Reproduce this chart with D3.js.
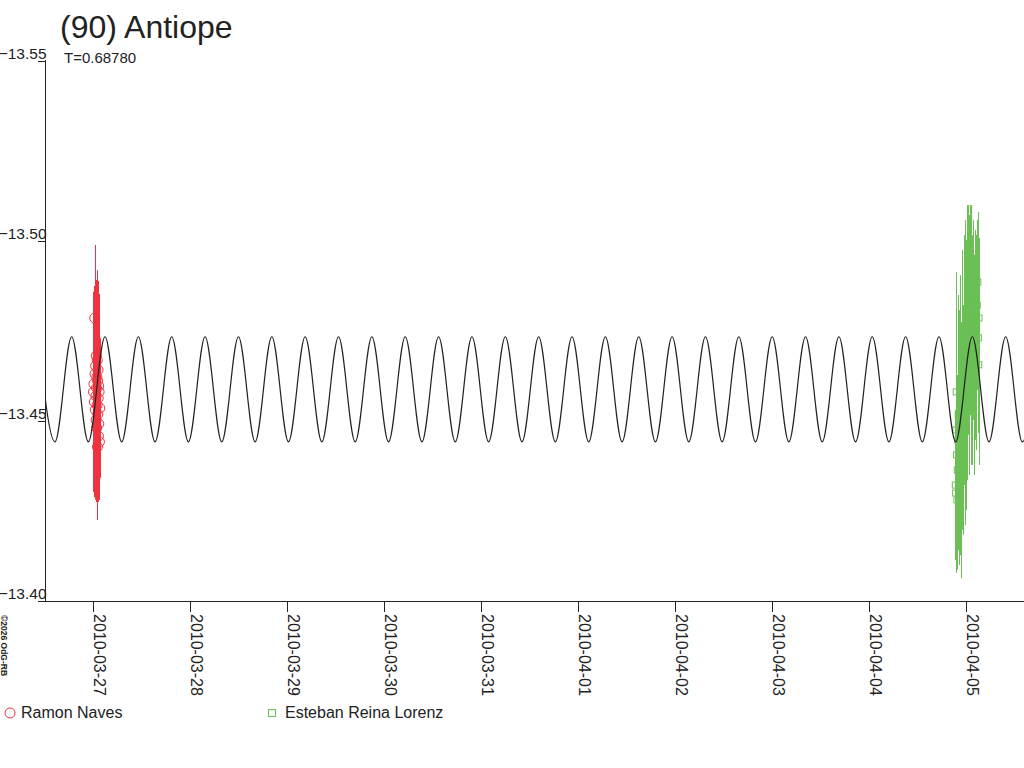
<!DOCTYPE html>
<html>
<head>
<meta charset="utf-8">
<script src="https://cdn.jsdelivr.net/npm/d3@7"></script>
<style>
body { margin: 0; background: #fff; }
svg { display: block; font-family: "Liberation Sans", Arial, sans-serif; }
</style>
</head>
<body>
<svg id="chart" width="1024" height="768"></svg>
<script>
// all times are days since 2010-03-27 00:00 UT
var epoch = Date.UTC( 2010, 2, 27 );

var title = '(90) Antiope';
var subtitle = 'T=0.68780';
var credit = '\u00a92026 OdG-RB';

var domainDays = [ -0.4948, 9.598 ];
var magDomain = [ -13.55, -13.40 ];
var magTicks = [ -13.55, -13.50, -13.45, -13.40 ];

var curveMaxMag = -13.4734;
var curveMinMag = -13.4442;
var curveMaxDays = [ -0.5640, -0.2200, 0.1238, 0.4678, 0.8117, 1.1556, 1.4995, 1.8434, 2.1873, 2.5312,
	2.8751, 3.2190, 3.5629, 3.9068, 4.2507, 4.5946, 4.9385, 5.2824, 5.6263, 5.9702,
	6.3141, 6.6580, 7.0019, 7.3458, 7.6897, 8.0336, 8.3775, 8.7214, 9.0653, 9.4092, 9.7531 ];
var curveMinDays = [ -0.3920, -0.0481, 0.2958, 0.6397, 0.9836, 1.3275, 1.6714, 2.0153, 2.3592, 2.7031,
	3.0470, 3.3909, 3.7348, 4.0787, 4.4226, 4.7665, 5.1104, 5.4543, 5.7982, 6.1421,
	6.4860, 6.8299, 7.1738, 7.5177, 7.8616, 8.2055, 8.5494, 8.8933, 9.2372, 9.5811 ];

// Ramon Naves
var redDays = [ 0.005, 0.010, 0.014, 0.018, 0.021, 0.024, 0.027, 0.030, 0.032, 0.034, 0.036, 0.038, 0.040,
	0.042, 0.044, 0.046, 0.048, 0.050, 0.052, 0.054, 0.056, 0.058, 0.060, 0.063, 0.066, 0.070 ];
var redMags = [ -13.4581, -13.4603, -13.4553, -13.4786, -13.4631, -13.4531, -13.4653, -13.4569, -13.4503,
	-13.4681, -13.4592, -13.4481, -13.4622, -13.4544, -13.4669, -13.4428, -13.4611, -13.4519, -13.4642,
	-13.4564, -13.4458, -13.4597, -13.4492, -13.4581, -13.4442, -13.4536 ];
var redErrs = [ 0.0278, 0.0272, 0.0264, 0.0203, 0.0250, 0.0250, 0.0236, 0.0292, 0.0228, 0.0208, 0.0300,
	0.0194, 0.0264, 0.0278, 0.0250, 0.0203, 0.0278, 0.0244, 0.0244, 0.0289, 0.0172, 0.0256, 0.0211,
	0.0236, 0.0139, 0.0194 ];

// Esteban Reina Lorenz
var greenDays = [ 8.890, 8.893, 8.896, 8.899, 8.902, 8.906, 8.910, 8.915, 8.920, 8.925, 8.930, 8.935, 8.940,
	8.948, 8.955, 8.962, 8.970, 8.978, 8.985, 8.992, 9.000, 9.008, 9.015, 9.022, 9.030, 9.040, 9.048,
	9.056, 9.064, 9.072, 9.080, 9.090, 9.100, 9.108, 9.116, 9.122, 9.128, 9.132, 9.134 ];
var greenMags = [ -13.4322, -13.4300, -13.4475, -13.4581, -13.4406, -13.4281, -13.4364, -13.4447, -13.4517,
	-13.4392, -13.4489, -13.4558, -13.4433, -13.4419, -13.4531, -13.4614, -13.4503, -13.4669, -13.4572,
	-13.4725, -13.4628, -13.4753, -13.4669, -13.4781, -13.4711, -13.4808, -13.4739, -13.4836, -13.4697,
	-13.4781, -13.4656, -13.4739, -13.4697, -13.4767, -13.4822, -13.4886, -13.4731, -13.4656, -13.4786 ];
var greenErrs = [ 0.0208, 0.0222, 0.0306, 0.0333, 0.0278, 0.0194, 0.0264, 0.0306, 0.0333, 0.0292, 0.0319,
	0.0347, 0.0306, 0.0356, 0.0333, 0.0361, 0.0319, 0.0347, 0.0361, 0.0333, 0.0375, 0.0347, 0.0333,
	0.0319, 0.0361, 0.0292, 0.0361, 0.0264, 0.0319, 0.0278, 0.0306, 0.0292, 0.0278, 0.0250, 0.0236,
	0.0194, 0.0264, 0.0278, 0.0222 ];

var series = [
	{ name: 'Esteban Reina Lorenz', color: '#6abf55', symbol: 'square', days: greenDays, mags: greenMags, errs: greenErrs, legendX: 272 },
	{ name: 'Ramon Naves', color: '#ee3340', symbol: 'circle', days: redDays, mags: redMags, errs: redErrs, legendX: 10 }
];

var toDate = function ( d ) { return new Date( epoch + d * 864e5 ); };
var ink = '#222';

var svg = d3.select( '#chart' );

var x = d3.scaleUtc()
	.domain( domainDays.map( toDate ) )
	.range( [ 45, 1024 ] );
var y = d3.scaleLinear()
	.domain( magDomain )
	.range( [ 61, 601 ] );

svg.append( 'defs' ).append( 'clipPath' ).attr( 'id', 'plot' )
	.append( 'rect' ).attr( 'x', 45 ).attr( 'y', 55 ).attr( 'width', 979 ).attr( 'height', 546 );

// axes
var yAxis = svg.append( 'g' )
	.attr( 'transform', 'translate(45,0)' )
	.style( 'color', ink )
	.call( d3.axisLeft( y ).tickValues( magTicks ).tickFormat( d3.format( '.2f' ) ).tickSize( 7 ).tickSizeOuter( 0 ) );
yAxis.attr( 'font-size', 15.5 ).attr( 'font-family', null );
yAxis.selectAll( 'path, line' ).attr( 'shape-rendering', 'crispEdges' );
yAxis.select( '.domain' ).attr( 'd', 'M0.5,60V601.5' );
yAxis.selectAll( 'text' ).attr( 'x', 1.5 ).attr( 'dy', '-0.15em' );

var xAxis = svg.append( 'g' )
	.attr( 'transform', 'translate(0,601)' )
	.style( 'color', ink )
	.call( d3.axisBottom( x ).ticks( d3.utcDay.every( 1 ) ).tickFormat( d3.utcFormat( '%Y-%m-%d' ) ).tickSize( 11 ).tickSizeOuter( 0 ) );
xAxis.attr( 'font-size', 16 ).attr( 'font-family', null );
xAxis.selectAll( 'path, line' ).attr( 'shape-rendering', 'crispEdges' );
xAxis.selectAll( 'text' )
	.attr( 'x', 0 )
	.attr( 'y', 0 )
	.attr( 'dy', null )
	.attr( 'transform', 'translate(1,13) rotate(90)' )
	.style( 'text-anchor', 'start' );

// observations: error bars first, then the symbols
var plot = svg.append( 'g' ).attr( 'clip-path', 'url(#plot)' );

series.forEach( function ( s ) {
	var pts = s.days.map( function ( d, i ) {
		return { t: toDate( d ), mag: s.mags[i], err: s.errs[i] };
	} );
	var g = plot.append( 'g' );
	g.selectAll( 'line' )
		.data( pts )
		.enter()
		.append( 'line' )
		.attr( 'x1', function ( d ) { return Math.round( x( d.t ) ) + 0.5; } )
		.attr( 'x2', function ( d ) { return Math.round( x( d.t ) ) + 0.5; } )
		.attr( 'y1', function ( d ) { return y( d.mag - d.err ); } )
		.attr( 'y2', function ( d ) { return y( d.mag + d.err ); } )
		.attr( 'stroke', s.color )
		.attr( 'stroke-width', 1 );
	if ( s.symbol === 'circle' ) {
		g.selectAll( 'circle' )
			.data( pts )
			.enter()
			.append( 'circle' )
			.attr( 'cx', function ( d ) { return x( d.t ); } )
			.attr( 'cy', function ( d ) { return y( d.mag ); } )
			.attr( 'r', 5 )
			.attr( 'fill', 'none' )
			.attr( 'stroke', s.color );
	} else {
		g.selectAll( 'rect' )
			.data( pts )
			.enter()
			.append( 'rect' )
			.attr( 'x', function ( d ) { return x( d.t ) - 3; } )
			.attr( 'y', function ( d ) { return y( d.mag ) - 3; } )
			.attr( 'width', 6 )
			.attr( 'height', 6 )
			.attr( 'fill', 'none' )
			.attr( 'stroke', s.color );
	}
} );

// model curve on top
var curvePts = curveMaxDays.map( function ( d ) { return { t: toDate( d ), mag: curveMaxMag }; } )
	.concat( curveMinDays.map( function ( d ) { return { t: toDate( d ), mag: curveMinMag }; } ) )
	.sort( function ( a, b ) { return a.t - b.t; } );

plot.append( 'path' )
	.datum( curvePts )
	.attr( 'fill', 'none' )
	.attr( 'stroke', ink )
	.attr( 'stroke-width', 1.2 )
	.attr( 'd', d3.line()
		.x( function ( d ) { return x( d.t ); } )
		.y( function ( d ) { return y( d.mag ); } )
		.curve( d3.curveMonotoneX ) );

// titles
svg.append( 'text' ).attr( 'x', 60 ).attr( 'y', 38 ).attr( 'font-size', 32 ).attr( 'fill', ink ).text( title );
svg.append( 'text' ).attr( 'x', 64 ).attr( 'y', 63 ).attr( 'font-size', 15 ).attr( 'fill', ink ).text( subtitle );
svg.append( 'text' )
	.attr( 'transform', 'translate(1,615) rotate(90)' )
	.attr( 'font-size', 8.5 )
	.attr( 'font-weight', 'bold' )
	.attr( 'fill', ink )
	.text( credit );

// legend
var legend = svg.append( 'g' ).selectAll( 'g' )
	.data( series.slice().reverse() )
	.enter()
	.append( 'g' )
	.attr( 'transform', function ( d ) { return 'translate(' + d.legendX + ',713)'; } );
legend.each( function ( d ) {
	var g = d3.select( this );
	if ( d.symbol === 'circle' ) {
		g.append( 'circle' ).attr( 'r', 5 ).attr( 'fill', 'none' ).attr( 'stroke', d.color );
	} else {
		g.append( 'rect' ).attr( 'x', -3.5 ).attr( 'y', -3.5 ).attr( 'width', 7 ).attr( 'height', 7 )
			.attr( 'fill', 'none' ).attr( 'stroke', d.color );
	}
	g.append( 'text' ).attr( 'x', d.symbol === 'circle' ? 11 : 13 ).attr( 'y', 5 )
		.attr( 'font-size', 16 ).attr( 'fill', ink ).text( d.name );
} );
</script>
</body>
</html>
